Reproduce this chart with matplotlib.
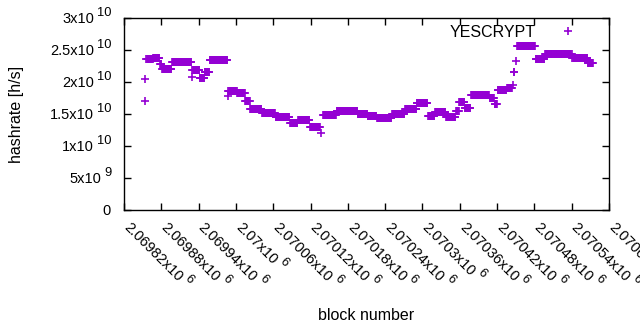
import matplotlib
matplotlib.use('Agg')
import matplotlib.pyplot as plt
from matplotlib.transforms import offset_copy
import numpy as np

plt.rcParams['font.family'] = ['Liberation Sans', 'DejaVu Sans']

# hashrate estimate, read as runs of constant value (first block, last block, value in 1e10 h/s)
run_first = [2069853, 2069854, 2069856, 2069867, 2069878, 2069881, 2069897, 2069910, 2069929,
             2069930, 2069942, 2069950, 2069958, 2069987, 2069988, 2070002, 2070015, 2070023,
             2070042, 2070064, 2070087, 2070100, 2070119, 2070137, 2070140, 2070162, 2070196,
             2070212, 2070227, 2070251, 2070272, 2070291, 2070309, 2070320, 2070338, 2070354,
             2070359, 2070368, 2070378, 2070408, 2070416, 2070421, 2070436, 2070445, 2070447,
             2070450, 2070452, 2070482, 2070497, 2070541, 2070566]
run_last = [2069853, 2069854, 2069866, 2069877, 2069880, 2069896, 2069909, 2069928, 2069929,
            2069941, 2069949, 2069957, 2069986, 2069987, 2070001, 2070014, 2070022, 2070041,
            2070063, 2070086, 2070099, 2070118, 2070135, 2070137, 2070161, 2070195, 2070211,
            2070226, 2070250, 2070271, 2070290, 2070308, 2070319, 2070337, 2070353, 2070358,
            2070367, 2070377, 2070407, 2070415, 2070420, 2070435, 2070444, 2070445, 2070448,
            2070450, 2070481, 2070496, 2070540, 2070565, 2070574]
run_value = [1.70, 2.05, 2.36, 2.38, 2.28, 2.21, 2.32, 2.31, 2.08,
             2.18, 2.07, 2.15, 2.34, 1.78, 1.86, 1.83, 1.70, 1.58,
             1.51, 1.45, 1.36, 1.41, 1.30, 1.21, 1.48, 1.55, 1.50,
             1.47, 1.43, 1.50, 1.58, 1.67, 1.47, 1.53, 1.46, 1.55,
             1.69, 1.60, 1.79, 1.75, 1.66, 1.88, 1.91, 1.95, 2.15,
             2.33, 2.57, 2.36, 2.44, 2.38, 2.30]

x_ticks = [2069820, 2069880, 2069940, 2070000, 2070060, 2070120, 2070180,
           2070240, 2070300, 2070360, 2070420, 2070480, 2070540, 2070600]
x_tick_mant = ['2.06982', '2.06988', '2.06994', '2.07', '2.07006', '2.07012', '2.07018',
               '2.07024', '2.0703', '2.07036', '2.07042', '2.07048', '2.07054', '2.0706']
x_tick_exp = '6'
y_ticks = [0, 5e9, 1e10, 1.5e10, 2e10, 2.5e10, 3e10]
y_tick_base = ['0', '5x10', '1x10', '1.5x10', '2x10', '2.5x10', '3x10']
y_tick_exp = ['', '9', '10', '10', '10', '10', '10']

blocks = np.concatenate([np.arange(a, b + 1) for a, b in zip(run_first, run_last)])
hashrate = np.concatenate([np.full(b - a + 1, v * 1e10)
                           for a, b, v in zip(run_first, run_last, run_value)])

purple = '#9400d3'
tick_fs = 10.5
sup_fs = 9.3
label_fs = 11.5

fig = plt.figure(figsize=(6.4, 3.3), dpi=100)
ax = fig.add_axes([124 / 640, 1 - 210 / 330, 485 / 640, 192 / 330])

ax.plot(blocks, hashrate, linestyle='none', marker='+', markersize=5.5, markeredgewidth=1.2,
        color=purple, label='YESCRYPT')

ax.set_xlim(x_ticks[0], x_ticks[-1])
ax.set_ylim(0, 3e10)
ax.set_xticks(x_ticks)
ax.set_xticklabels([])
ax.set_yticks(y_ticks)
ax.set_yticklabels([])
ax.tick_params(direction='in', length=5, width=1, top=True, right=True, colors='black')
for s in ax.spines.values():
    s.set_linewidth(1.0)

renderer = fig.canvas.get_renderer()


def text_width(s, size):
    t = fig.text(0, 0, s, fontsize=size)
    w = t.get_window_extent(renderer).width
    t.remove()
    return w


gap = 3.0      # px between mantissa and exponent
raise_px = 7.7  # exponent baseline lift

# y tick labels: "1.5x10" with raised exponent, right end 13 px left of the axis
ytrans = ax.get_yaxis_transform()
for v, base, ex in zip(y_ticks, y_tick_base, y_tick_exp):
    if ex:
        ws = text_width(ex, sup_fs)
        ax.text(0, v, ex, fontsize=sup_fs, ha='right', va='baseline',
                transform=offset_copy(ytrans, fig=fig, x=-12.5, y=-5.4 + raise_px, units='dots'))
        x_end = -12.5 - ws - gap
    else:
        x_end = -13
    ax.text(0, v, base, fontsize=tick_fs, ha='right', va='baseline',
            transform=offset_copy(ytrans, fig=fig, x=x_end, y=-5.4, units='dots'))

# x tick labels rotated -45 deg, exponent placed after the mantissa
xtrans = ax.get_xaxis_transform()
c = np.cos(np.radians(45))
for v, m in zip(x_ticks, x_tick_mant):
    base = m + 'x10'
    ax0, ay0 = -1.0, -18.0
    ax.text(v, 0, base, fontsize=tick_fs, ha='left', va='baseline', rotation=-45,
            rotation_mode='anchor', clip_on=False,
            transform=offset_copy(xtrans, fig=fig, x=ax0, y=ay0, units='dots'))
    wb = text_width(base, tick_fs) + gap
    sx = ax0 + wb * c + raise_px * c
    sy = ay0 - wb * c + raise_px * c
    ax.text(v, 0, x_tick_exp, fontsize=sup_fs, ha='left', va='baseline', rotation=-45,
            rotation_mode='anchor', clip_on=False,
            transform=offset_copy(xtrans, fig=fig, x=sx, y=sy, units='dots'))

fig.text(366 / 640, 1 - 316 / 330, 'block number', fontsize=label_fs, ha='center', va='center')
fig.text(17 / 640, 1 - 114 / 330, 'hashrate [h/s]', fontsize=label_fs, ha='center', va='center',
         rotation=90)

ax.legend(loc='upper right', markerfirst=False, frameon=False, fontsize=label_fs, numpoints=1,
          handlelength=2.5, handletextpad=0.8, borderpad=0, borderaxespad=0,
          bbox_to_anchor=(0.957, 0.965))

fig.savefig('out.png', dpi=100)
